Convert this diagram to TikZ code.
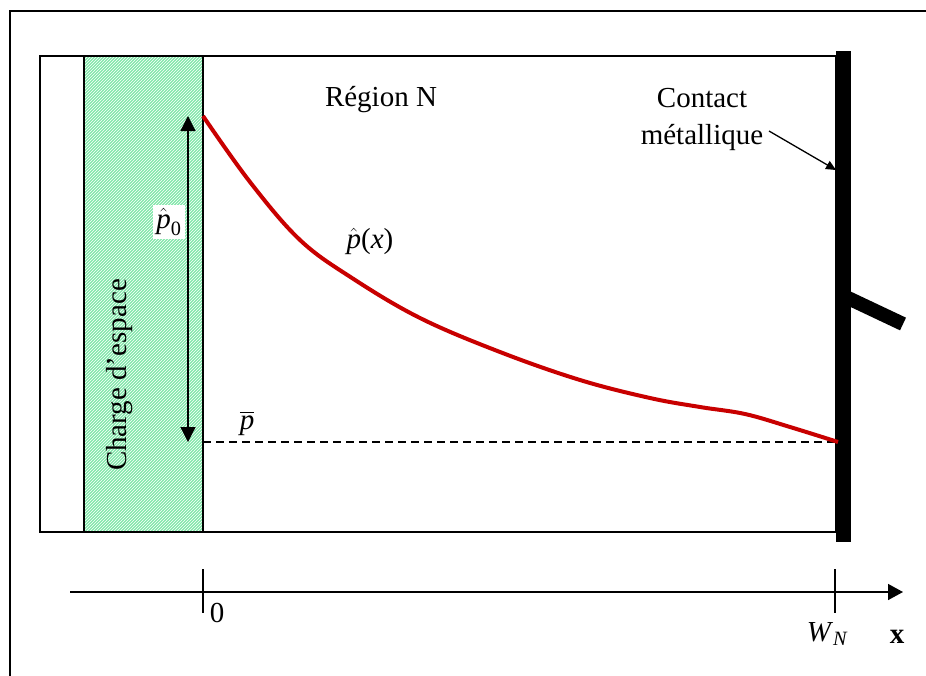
\documentclass[tikz,border=0pt]{standalone}
\usepackage{amsmath}
\usepackage{fontspec}
\setmainfont{Liberation Serif}
\usetikzlibrary{arrows.meta,patterns}
\definecolor{hatchgreen}{RGB}{130,232,170}
\definecolor{curvered}{RGB}{200,0,0}
\tikzset{
  lbl/.style={font=\fontsize{29}{34}\selectfont, inner sep=1pt},
  thinbox/.style={draw=black, line width=1.3pt},
}
\begin{document}
\begin{tikzpicture}[x=1pt,y=-1pt]
\useasboundingbox (0,0) rectangle (926,675);
% outer frame (partially cut)
\draw[line width=2pt] (10,700) -- (10,11) -- (940,11);
% inner rectangle
\draw[thinbox] (40,56) rectangle (836,532);
% space charge region
\fill[hatchgreen] (84,56) rectangle (203,532);
\fill[pattern=north east lines, pattern color=white] (84,56) rectangle (203,532);
\draw[thinbox] (84,56) rectangle (203,532);
\node[lbl, rotate=90] (charge) at (120,375) {Charge d'espace};
% metallic contact
\fill (836,51) rectangle (851,542);
\draw[line width=14pt] (848,298) -- (903,324);
\coordinate (cbar) at (836,170);
% dashed level
\coordinate (d0) at (203,442);
\coordinate (d1) at (836,442);
\draw[line width=1.2pt, dash pattern=on 8pt off 5pt] (d0) -- (d1);
% p0 double arrow
\coordinate (a0) at (188,116);
\coordinate (a1) at (188,442);
\draw[line width=1.2pt, {Triangle[length=15pt,width=15pt]}-{Triangle[length=15pt,width=15pt]}] (a0) -- (a1);
\node[lbl, fill=white, inner sep=3pt] (p0) at (169,222) {$\hat{\textit{p}}_{\textrm{0}}$};
% curve
\draw[curvered, line width=4pt] plot[smooth, tension=0.6] coordinates {(203,116) (250,182) (300,240) (352,278) (420,318) (500,352) (580,380) (650,398) (700,407) (745,414) (790,427) (838,442)};
% labels
\node[lbl] (region) at (381,100) {Région N};
\node[lbl] (px) at (370,241) {$\hat{\textit{p}}$(\textit{x})};
\node[lbl] (pbar) at (247,423) {$\overline{\textit{p}}$};
\node[lbl, align=center] (contact) at (702,119) {Contact\\[3pt]métallique};
\coordinate (cstart) at (769,131);
\draw[line width=1.3pt, -{Triangle[length=10pt,width=9pt]}] (cstart) -- (cbar);
% axis
\coordinate (ax0) at (70,592);
\coordinate (ax1) at (903,592);
\draw[line width=1.5pt, -{Triangle[length=15pt,width=16pt]}] (ax0) -- (ax1);
\draw[line width=1.5pt] (203,569) -- (203,613);
\draw[line width=1.5pt] (835,569) -- (835,613);
\node[lbl] (zero) at (217,613) {0};
\node[lbl] (wn) at (827,634) {\textit{W}$_{\textit{N}}$};
\node[lbl] (xl) at (897,637) {\textbf{x}};
\end{tikzpicture}
\end{document}
